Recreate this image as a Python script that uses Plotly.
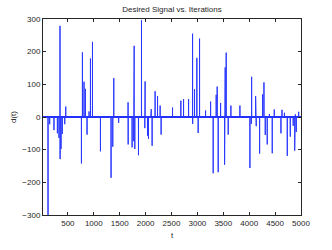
import plotly.graph_objects as go

# Spike positions (iteration t) and values of the desired signal d(t)
pos_t = [348, 459, 781, 812, 839, 909, 936, 975, 1386, 1662, 1780, 1921, 1991,
         2101, 2110, 2184, 2231, 2281, 2520, 2681, 2733, 2830, 2907, 2945, 2990,
         3042, 3158, 3255, 3363, 3382, 3448, 3537, 3556, 3647, 3821, 4047, 4124,
         4259, 4285, 4390, 4484, 4633, 4680, 4890, 4955]
pos_v = [279, 32, 198, 108, 86, 17, 179, 230, 119, 45, 218, 297, 109,
         20, 24, 79, 64, 35, 29, 50, 55, 55, 255, 85, 181,
         240, 20, 47, 68, 93, 43, 152, 197, 35, 35, 123, 64,
         69, 106, 9, 23, 22, 13, 8, 16]

neg_t = [117, 149, 232, 298, 329, 350, 368, 392, 440, 762, 870, 1129, 1334,
         1367, 1480, 1664, 1740, 1770, 1792, 1863, 1985, 2037, 2056, 2126,
         2300, 2909, 3015, 3305, 3402, 3525, 3595, 4014, 4040, 4136, 4201,
         4310, 4348, 4445, 4613, 4735, 4793, 4850, 4878, 4909]
neg_v = [-330, -22, -40, -50, -64, -129, -98, -52, -22, -142, -54, -105, -186,
         -91, -18, -84, -93, -74, -98, -117, -34, -57, -67, -88,
         -54, -21, -49, -172, -169, -146, -54, -156, -21, -28, -112,
         -55, -84, -111, -50, -119, -60, -27, -103, -46]

t_start, t_end = 20, 5000
x_ticks = [500, 1000, 1500, 2000, 2500, 3000, 3500, 4000, 4500, 5000]
y_ticks = [-300, -200, -100, 0, 100, 200, 300]

spikes = sorted(zip(pos_t + neg_t, pos_v + neg_v))
xs, ys = [t_start], [0]
for t, v in spikes:
    xs += [t - 1, t, t + 1]
    ys += [0, v, 0]
xs.append(t_end)
ys.append(0)

fig = go.Figure(go.Scatter(x=xs, y=ys, mode="lines",
                           line=dict(color="#2a38ff", width=1),
                           hoverinfo="skip", showlegend=False))

axis_common = dict(showgrid=False, showline=True, linecolor="#262626", linewidth=1,
                   mirror="ticks", ticks="inside", ticklen=3, tickcolor="#262626",
                   tickfont=dict(size=8, color="#262626"))

fig.update_layout(
    width=332, height=250,
    margin=dict(l=43, r=31, t=19, b=28),
    paper_bgcolor="white", plot_bgcolor="white",
    font=dict(family="Liberation Sans, Arial, sans-serif", size=8, color="#262626"),
    title=dict(text="Desired Signal vs. Iterations", x=0.518, xanchor="center",
               y=0.963, yanchor="middle", font=dict(size=8, color="#262626")),
    xaxis=dict(range=[t_start, t_end], tickvals=x_ticks,
               title=dict(text="t", standoff=5, font=dict(size=8)), zeroline=False,
               **axis_common),
    yaxis=dict(range=[-300, 300], tickvals=y_ticks,
               title=dict(text="d(t)", standoff=4, font=dict(size=8)),
               zeroline=True, zerolinecolor="#1a2bff", zerolinewidth=2,
               **axis_common),
)

fig.write_html("out.html", config={"displayModeBar": False},
               post_script="document.body.style.margin='0';document.body.style.overflow='hidden';")
